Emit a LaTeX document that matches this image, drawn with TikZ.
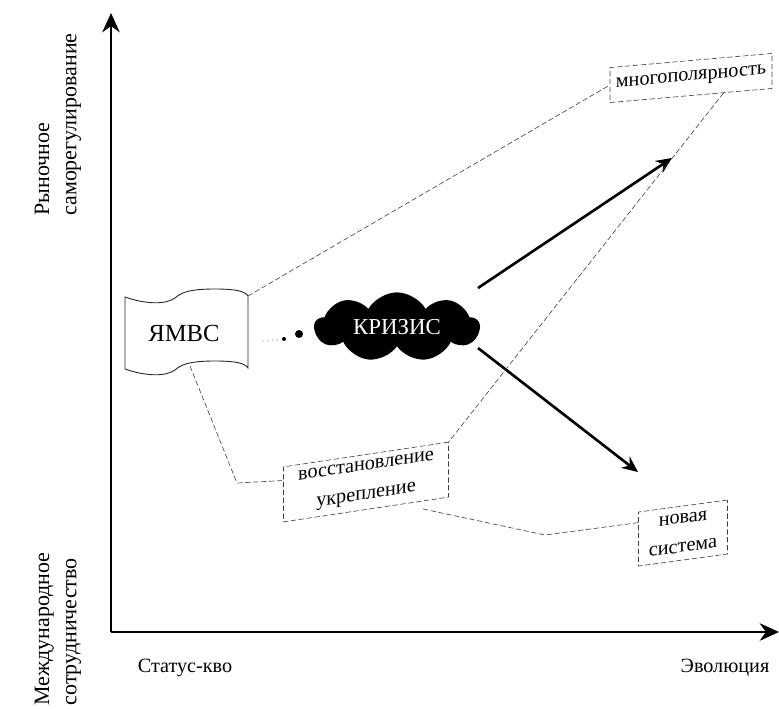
\documentclass[tikz,border=0pt]{standalone}
\usepackage{fontspec}
\setmainfont{Liberation Serif}
\usetikzlibrary{shapes.symbols,arrows.meta,calc}

\begin{document}
\begin{tikzpicture}[x=0.02cm,y=-0.02cm]
\tikzstyle{every node}+=[inner sep=0pt,font=\fontsize{11.5}{15}\selectfont]
\tikzstyle{axis label}=[rotate=90,align=left,font=\fontsize{12.5}{15.5}\selectfont]
\tikzstyle{tilted box}=[draw=black!75,dash pattern=on 3pt off 1.5pt,line width=0.35pt,align=center,
  font=\fontsize{11.5}{16.5}\selectfont]
\tikzstyle{thin link}=[black!75,dash pattern=on 3pt off 1.5pt,line width=0.35pt]
\tikzstyle{axis}=[line width=0.6pt,-{Stealth[length=11pt,width=10pt]}]
\tikzstyle{thick arrow}=[line width=1.5pt,-{Stealth[length=9pt,width=8pt]}]
\useasboundingbox (0,0) rectangle (779,708);
\coordinate (origin) at (111,632);
\coordinate (ytop) at (111,13);
\coordinate (xend) at (779,632);
\draw [axis] (origin) -- (ytop);
\draw [axis] (origin) -- (xend);
\node (ylabel) [axis label,anchor=west] at (58,216) {Рыночное\\саморегулирование};
\node (xlabel) [axis label,anchor=east] at (58,552) {Международное\\сотрудничество};
\node (statusquo) at (185,668) {Статус-кво};
\node (evolution) at (725,668) {Эволюция};
\draw [black!85,line width=0.5pt] (125,297) .. controls (145,304) and (165,305) .. (175,298)
  .. controls (182,291) and (195,289) .. (215,289) .. controls (235,289) and (245,291) .. (248,296)
  -- (248,368) .. controls (245,363) and (235,361) .. (215,361)
  .. controls (195,361) and (182,363) .. (175,370) .. controls (165,377) and (145,376) .. (125,369) -- cycle;
\node (ymvs) [font=\fontsize{14}{16}\selectfont] at (184,333) {ЯМВС};
\coordinate (flagtr) at (248,296);
\coordinate (flagbot) at (190,366);
\draw [black!25,dotted,line width=0.8pt] (262,341) -- (279,340);
\fill (284,339) circle (2);
\fill (299,334) circle (4);
\node (krizis) [cloud,cloud puffs=9,cloud puff arc=120,aspect=2.6,fill=black,text=white,
  minimum width=3.3cm,minimum height=1.15cm,font=\fontsize{13}{15}\selectfont] at (397,327) {КРИЗИС};
\node (mnogo) [tilted box,yslant=0.087,minimum width=3.24cm,minimum height=0.7cm] at (691,78) {многополярность};
\node (vosst) [tilted box,yslant=0.15,minimum width=3.3cm,minimum height=1.1cm] at (366,482) {восстановление\\укрепление};
\node (novaya) [tilted box,yslant=0.135,minimum width=1.78cm,minimum height=1.08cm] at (683,533) {новая\\система};
\coordinate (krizisne) at (478,288);
\coordinate (krizisse) at (478,348);
\coordinate (mnogoarrow) at (672,158);
\coordinate (novarrow) at (638,472);
\draw [thick arrow] (krizisne) -- (mnogoarrow);
\draw [thick arrow] (krizisse) -- (novarrow);
\coordinate (bend1) at (237,483);
\coordinate (vosstlow) at (423,509);
\coordinate (bend2) at (545,535);
\draw [thin link] (flagtr) -- (mnogo.west);
\draw [thin link] ($(mnogo.south)!0.4!(mnogo.south east)$) -- (vosst.north east);
\draw [thin link] (flagbot) -- (bend1) -- ($(vosst.west)!0.5!(vosst.north west)$);
\draw [thin link] (vosstlow) -- (bend2) -- ($(novaya.west)!0.6!(novaya.north west)$);
\end{tikzpicture}
\end{document}
